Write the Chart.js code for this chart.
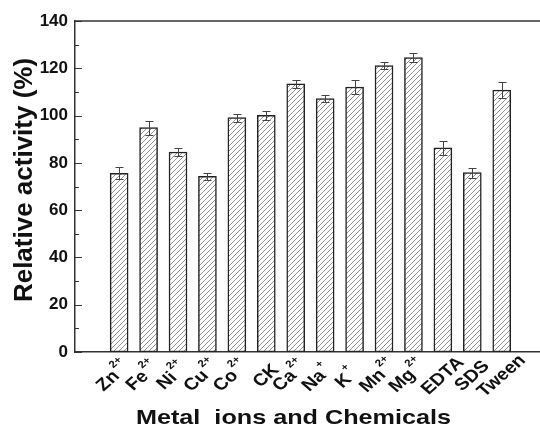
<!DOCTYPE html>
<html>
<head>
<meta charset="utf-8">
<script src="https://cdn.jsdelivr.net/npm/chart.js@4.4.0/dist/chart.umd.min.js"></script>
<style>
    html, body { margin: 0; padding: 0; background: #fff; }
    #wrap { width: 540px; height: 428px; }
</style>
</head>
<body>
<div id="wrap"><canvas id="activityChart"></canvas></div>
<script>
// ===== данные =====
const categories = ['Zn', 'Fe', 'Ni', 'Cu', 'Co', 'CK', 'Ca', 'Na', 'K', 'Mn', 'Mg', 'EDTA', 'SDS', 'Tween'];
const charges = ['2+', '2+', '2+', '2+', '2+', '', '2+', '+', '+', '2+', '2+', '', '', ''];
const activity = [75.6, 94.9, 84.6, 74.3, 99.1, 100.1, 113.4, 107.2, 112.1, 121.1, 124.5, 86.4, 75.9, 110.8];
const errors = [2.5, 3.0, 1.8, 1.4, 1.7, 1.8, 1.8, 1.5, 3.0, 1.6, 1.8, 3.0, 2.1, 3.5];
const yTicks = [0, 20, 40, 60, 80, 100, 120, 140];
const xTitle = 'Metal  ions and Chemicals';
const yTitle = 'Relative activity (%)';

const AXIS = '#333';
const TEXT = '#111';
const FONT = 'Liberation Sans, Arial, sans-serif';
const STRETCH = 1.15; // текст на исходнике растянут по горизонтали

// штриховка столбцов
function makeHatch() {
    const c = document.createElement('canvas');
    c.width = 5; c.height = 5;
    const g = c.getContext('2d');
    g.fillStyle = '#fff';
    g.fillRect(0, 0, 5, 5);
    g.strokeStyle = '#808080';
    g.lineWidth = 0.85;
    g.beginPath();
    g.moveTo(-1, 6); g.lineTo(6, -1);
    g.moveTo(-1, 1); g.lineTo(1, -1);
    g.moveTo(4, 6); g.lineTo(6, 4);
    g.stroke();
    return g.createPattern(c, 'repeat');
}

// рамка сверху и внутренние засечки по Y
const framePlugin = {
    id: 'frame',
    afterDraw(chart) {
        const { ctx, chartArea, scales } = chart;
        ctx.save();
        ctx.strokeStyle = AXIS;
        ctx.lineWidth = 1.5;
        ctx.beginPath();
        ctx.moveTo(chartArea.left, chartArea.top);
        ctx.lineTo(chartArea.right, chartArea.top);
        ctx.stroke();
        ctx.lineWidth = 1;
        for (let v = 0; v <= 140; v += 10) {
            const y = Math.round(scales.y.getPixelForValue(v)) + 0.5;
            const len = v % 20 === 0 ? 7 : 4;
            ctx.beginPath();
            ctx.moveTo(chartArea.left, y);
            ctx.lineTo(chartArea.left + len, y);
            ctx.stroke();
        }
        ctx.restore();
    }
};

// подписи категорий с зарядами и подписи осей
const labelPlugin = {
    id: 'axisText',
    afterDraw(chart) {
        const { ctx, scales, chartArea } = chart;
        ctx.save();
        ctx.fillStyle = TEXT;
        ctx.textBaseline = 'middle';
        ctx.textAlign = 'left';
        categories.forEach((name, i) => {
            const x = scales.x.getPixelForValue(i);
            const sup = charges[i];
            ctx.save();
            if (sup) ctx.translate(x - 11, chartArea.bottom + 29);
            else ctx.translate(x, chartArea.bottom + 24);
            ctx.scale(STRETCH, 1);
            ctx.rotate(-Math.PI / 4);
            ctx.font = 'bold 17px ' + FONT;
            const wb = ctx.measureText(name).width;
            ctx.fillText(name, -wb / 2, 0);
            if (sup) {
                ctx.font = 'bold 10px ' + FONT;
                ctx.fillText(sup, wb / 2 + 1.5, -8.5);
            }
            ctx.restore();
        });
        // подпись оси X
        ctx.save();
        ctx.translate(293.5, 423.5);
        ctx.scale(1.2, 1);
        ctx.font = 'bold 21px ' + FONT;
        ctx.textAlign = 'center';
        ctx.textBaseline = 'alphabetic';
        ctx.fillText(xTitle, 0, 0);
        ctx.restore();
        // подпись оси Y
        ctx.save();
        ctx.translate(31.5, 180);
        ctx.rotate(-Math.PI / 2);
        ctx.font = 'bold 26px ' + FONT;
        ctx.textAlign = 'center';
        ctx.textBaseline = 'alphabetic';
        ctx.fillText(yTitle, 0, 0);
        ctx.restore();
        ctx.restore();
    }
};

// планки погрешностей
const errorBarPlugin = {
    id: 'errorBars',
    afterDatasetsDraw(chart) {
        const { ctx, scales } = chart;
        const meta = chart.getDatasetMeta(0);
        ctx.save();
        ctx.strokeStyle = '#444';
        ctx.lineWidth = 1;
        meta.data.forEach((bar, i) => {
            const x = Math.round(bar.x) + 0.5;
            const yHi = Math.round(scales.y.getPixelForValue(activity[i] + errors[i])) + 0.5;
            const yLo = Math.round(scales.y.getPixelForValue(activity[i] - errors[i])) + 0.5;
            ctx.beginPath();
            ctx.moveTo(x, yHi); ctx.lineTo(x, yLo);
            ctx.moveTo(x - 4, yHi); ctx.lineTo(x + 4, yHi);
            ctx.moveTo(x - 4, yLo); ctx.lineTo(x + 4, yLo);
            ctx.stroke();
        });
        ctx.restore();
    }
};

const chart = new Chart(document.getElementById('activityChart'), {
    type: 'bar',
    data: {
        datasets: [{
            data: activity.map((v, i) => ({ x: i, y: v })),
            backgroundColor: makeHatch(),
            borderColor: '#222',
            borderWidth: 1.5,
            borderSkipped: false,
            barThickness: 18
        }]
    },
    options: {
        responsive: true,
        maintainAspectRatio: false,
        animation: false,
        layout: { padding: { top: 21, right: 0, left: 0, bottom: 0 } },
        plugins: {
            legend: { display: false },
            tooltip: { enabled: false }
        },
        scales: {
            x: {
                type: 'linear',
                offset: false,
                min: -1.5,
                max: 14.3,
                afterBuildTicks: axis => { axis.ticks = []; },
                afterFit: axis => { axis.height = 76; },
                grid: { display: false, drawTicks: false },
                border: { display: true, color: AXIS, width: 1.5 },
                ticks: { display: false }
            },
            y: {
                min: 0,
                max: 140,
                afterBuildTicks: axis => { axis.ticks = yTicks.map(v => ({ value: v })); },
                afterFit: axis => { axis.width = 75; },
                grid: { display: false, drawTicks: false },
                border: { display: true, color: AXIS, width: 1.5 },
                ticks: {
                    padding: 7,
                    color: TEXT,
                    font: { family: FONT, size: 17, weight: 'bold' }
                }
            }
        }
    },
    plugins: [framePlugin, errorBarPlugin, labelPlugin]
});
</script>
</body>
</html>
